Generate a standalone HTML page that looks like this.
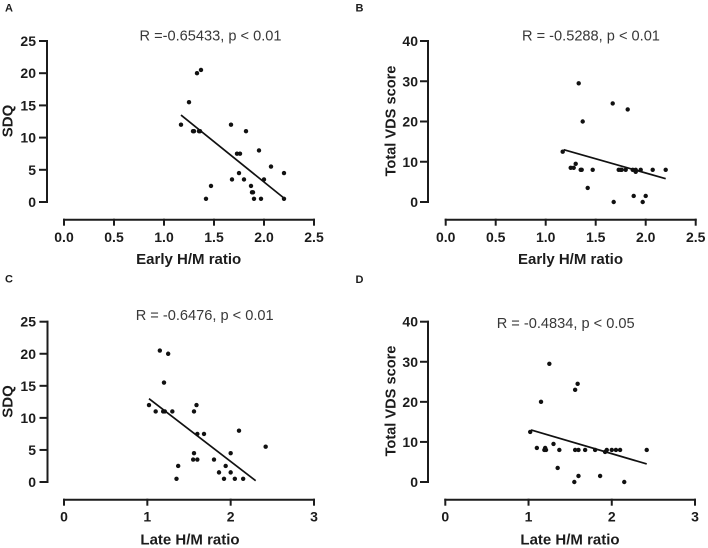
<!DOCTYPE html>
<html lang="en">
<head>
<meta charset="utf-8">
<title>H/M ratio correlations</title>
<style>
html,body{margin:0;padding:0;background:#fff;}
svg{display:block;}
text{font-family:"Liberation Sans",Arial,sans-serif;fill:#1c1c1c;}
.tick{font-size:14px;font-weight:bold;}
.title{font-size:15px;font-weight:bold;}
.title-narrow{font-size:14.6px;font-weight:bold;}
.stat{font-size:14.6px;fill:#383838;}
.letter{font-size:11px;font-weight:bold;}
</style>
</head>
<body>
<svg id="chart" width="708" height="548" viewBox="0 0 708 548" xmlns="http://www.w3.org/2000/svg">
  <g id="panel-a">
    <text class="letter" x="5" y="11.5">A</text>
    <text class="stat" x="139.5" y="40.7">R =-0.65433, p &lt; 0.01</text>
    <text class="title" x="188.7" y="264" text-anchor="middle">Early H/M ratio</text>
    <text class="title" transform="translate(12.5,121) rotate(-90)" text-anchor="middle">SDQ</text>
  </g>
  <g id="panel-b">
    <text class="letter" x="355.5" y="11.5">B</text>
    <text class="stat" x="522" y="40.7">R = -0.5288, p &lt; 0.01</text>
    <text class="title" x="570.5" y="264" text-anchor="middle">Early H/M ratio</text>
    <text class="title-narrow" transform="translate(395.3,121) rotate(-90)" text-anchor="middle">Total VDS score</text>
  </g>
  <g id="panel-c">
    <text class="letter" x="5" y="282.5">C</text>
    <text class="stat" x="135.7" y="320">R = -0.6476, p &lt; 0.01</text>
    <text class="title" x="190" y="544.7" text-anchor="middle">Late H/M ratio</text>
    <text class="title" transform="translate(12.5,401.5) rotate(-90)" text-anchor="middle">SDQ</text>
  </g>
  <g id="panel-d">
    <text class="letter" x="355.5" y="283">D</text>
    <text class="stat" x="496.7" y="328">R = -0.4834, p &lt; 0.05</text>
    <text class="title" x="570" y="544.7" text-anchor="middle">Late H/M ratio</text>
    <text class="title-narrow" transform="translate(395.3,401) rotate(-90)" text-anchor="middle">Total VDS score</text>
  </g>
</svg>
<script>
const earlyXTicks = ["0.0","0.5","1.0","1.5","2.0","2.5"];
const lateXTicks = ["0","1","2","3"];
const sdqYTicks = ["0","5","10","15","20","25"];
const vdsYTicks = ["0","10","20","30","40"];

const panelAX = [1.17,1.25,1.33,1.37,1.29,1.30,1.35,1.36,1.42,1.47,1.67,1.68,1.73,1.76,1.75,1.80,1.82,1.87,1.88,1.89,1.90,1.95,1.97,2.00,2.07,2.20,2.20];
const panelAY = [12,15.5,20,20.5,11,11,11,11,0.5,2.5,12,3.5,7.5,7.5,4.5,3.5,11,2.5,1.5,1.5,0.5,8,0.5,3.5,5.5,4.5,0.5];
const panelAFitX = [1.17,2.2];
const panelAFitY = [13.5,0.6];

const panelBX = [1.17,1.25,1.28,1.30,1.33,1.35,1.36,1.37,1.42,1.47,1.67,1.68,1.73,1.75,1.76,1.80,1.82,1.87,1.88,1.90,1.90,1.95,1.97,2.00,2.07,2.20];
const panelBY = [12.5,8.5,8.5,9.5,29.5,8,8,20,3.5,8,24.5,0,8,8,8,8,23,8,1.5,7.5,8,8,0,1.5,8,8];
const panelBFitX = [1.18,2.2];
const panelBFitY = [13,5.8];

const panelCX = [1.02,1.10,1.15,1.19,1.20,1.21,1.25,1.30,1.35,1.37,1.55,1.56,1.56,1.59,1.60,1.60,1.68,1.80,1.86,1.92,1.94,2.00,2.00,2.05,2.10,2.15,2.42];
const panelCY = [12,11,20.5,11,15.5,11,20,11,0.5,2.5,3.5,11,4.5,12,3.5,7.5,7.5,3.5,1.5,0.5,2.5,4.5,1.5,0.5,8,0.5,5.5];
const panelCFitX = [1.02,2.3];
const panelCFitY = [13,0.2];

const panelDX = [1.02,1.10,1.15,1.19,1.20,1.21,1.25,1.30,1.35,1.37,1.55,1.56,1.56,1.59,1.60,1.60,1.68,1.80,1.86,1.92,1.94,2.00,2.05,2.10,2.15,2.42];
const panelDY = [12.5,8.5,20,8,8.5,8,29.5,9.5,3.5,8,0,23,8,24.5,1.5,8,8,8,1.5,7.5,8,8,8,8,0,8];
const panelDFitX = [1.03,2.42];
const panelDFitY = [13,4.5];

const NS = "http://www.w3.org/2000/svg";

function make(parent, tag, attrs, name) {
  const el = document.createElementNS(NS, tag);
  for (const k in attrs) el.setAttribute(k, attrs[k]);
  
  
  parent.appendChild(el);
  return el;
}

function drawPanel(id, cfg) {
  const g = document.getElementById("panel-" + id);
  const xMax = Number(cfg.xTicks[cfg.xTicks.length - 1]);
  const yMax = Number(cfg.yTicks[cfg.yTicks.length - 1]);
  const sx = v => cfg.x0 + (v / xMax) * (cfg.x1 - cfg.x0);
  const sy = v => cfg.y0 + (v / yMax) * (cfg.y1 - cfg.y0);
  const axis = {stroke:"#1c1c1c","stroke-width":2,"stroke-linecap":"square",fill:"none"};

  make(g, "line", Object.assign({x1:cfg.yAxisX,x2:cfg.yAxisX,y1:sy(yMax),y2:sy(0)}, axis), "y-axis-line-" + id);
  cfg.yTicks.forEach(t => {
    const v = Number(t);
    make(g, "line", Object.assign({x1:cfg.yAxisX - 7,x2:cfg.yAxisX,y1:sy(v),y2:sy(v)}, axis), "y-tick-" + id);
    const label = make(g, "text", {class:"tick",x:cfg.yLabelX,y:sy(v) + 5,"text-anchor":"end"}, "y-tick-label-" + id);
    label.textContent = t;
  });

  make(g, "line", Object.assign({x1:sx(0),x2:sx(xMax),y1:cfg.xAxisY,y2:cfg.xAxisY}, axis), "x-axis-line-" + id);
  cfg.xTicks.forEach(t => {
    const v = Number(t);
    make(g, "line", Object.assign({x1:sx(v),x2:sx(v),y1:cfg.xAxisY,y2:cfg.xAxisY + 5}, axis), "x-tick-" + id);
    const label = make(g, "text", {class:"tick",x:sx(v),y:cfg.xLabelY,"text-anchor":"middle"}, "x-tick-label-" + id);
    label.textContent = t;
  });

  cfg.xs.forEach((v, i) => {
    make(g, "circle", {cx:sx(v),cy:sy(cfg.ys[i]),r:2.2,fill:"#111"}, "data-point-" + id);
  });
  make(g, "line", {x1:sx(cfg.fitX[0]),y1:sy(cfg.fitY[0]),x2:sx(cfg.fitX[1]),y2:sy(cfg.fitY[1]),stroke:"#111","stroke-width":1.7}, "regression-line-" + id);
}

drawPanel("a", {xTicks:earlyXTicks,yTicks:sdqYTicks,xs:panelAX,ys:panelAY,fitX:panelAFitX,fitY:panelAFitY,
  x0:64,x1:314,y0:202,y1:41,yAxisX:47,xAxisY:219.7,yLabelX:36,xLabelY:242});
drawPanel("b", {xTicks:earlyXTicks,yTicks:vdsYTicks,xs:panelBX,ys:panelBY,fitX:panelBFitX,fitY:panelBFitY,
  x0:445.7,x1:695.7,y0:202,y1:41,yAxisX:428,xAxisY:219.7,yLabelX:418,xLabelY:242});
drawPanel("c", {xTicks:lateXTicks,yTicks:sdqYTicks,xs:panelCX,ys:panelCY,fitX:panelCFitX,fitY:panelCFitY,
  x0:64,x1:314,y0:482,y1:321.7,yAxisX:47.5,xAxisY:499.7,yLabelX:36,xLabelY:521.7});
drawPanel("d", {xTicks:lateXTicks,yTicks:vdsYTicks,xs:panelDX,ys:panelDY,fitX:panelDFitX,fitY:panelDFitY,
  x0:445.3,x1:695,y0:482,y1:321.7,yAxisX:428,xAxisY:499.7,yLabelX:418,xLabelY:521.7});
</script>
</body>
</html>
